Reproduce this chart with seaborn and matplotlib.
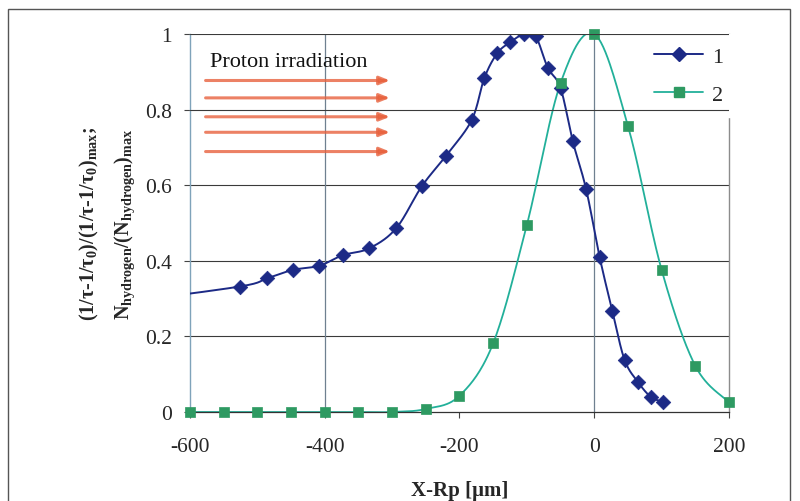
import numpy as np
import pandas as pd
import matplotlib
matplotlib.use("Agg")
import matplotlib.pyplot as plt
import seaborn as sns
from matplotlib.lines import Line2D
from matplotlib.patches import Rectangle

# ---------------- data ----------------
s1_x = [-700, -526, -485, -447, -408, -373, -334, -294, -256, -220, -182, -163, -144,
        -125, -104, -87, -69, -50, -32, -12, 8, 27, 45, 65, 84, 102]
s1_y = [0.29, 0.332, 0.354, 0.376, 0.387, 0.415, 0.433, 0.486, 0.597, 0.678, 0.772,
        0.884, 0.949, 0.978, 1.0, 0.994, 0.911, 0.857, 0.717, 0.589, 0.41, 0.266,
        0.138, 0.079, 0.040, 0.027]
s2_x = [-600, -550, -500, -450, -400, -350, -300, -250, -200, -150, -100, -50, 0,
        50, 100, 150, 200]
s2_y = [0, 0, 0, 0, 0, 0, 0, 0.008, 0.043, 0.182, 0.495, 0.87, 1.0, 0.757, 0.376,
        0.122, 0.026]
arrow_y = [0.877, 0.831, 0.781, 0.740, 0.689]
arrow_x = [-581, -299]
x_ticks = [-600, -400, -200, 0, 200]
y_ticks = [0, 0.2, 0.4, 0.6, 0.8, 1.0]
y_tick_labels = ["0", "0.2", "0.4", "0.6", "0.8", "1"]
series_names = ["1", "2"]

C1 = "#1c2a86"
C2_line = "#22b09a"
C2_mark = "#2e9a62"
ARROW = "#e8623e"


def smooth(xs, ys, n=30):
    """Catmull-Rom (Excel-like) smoothed curve through the given points."""
    P = np.column_stack([xs, ys]).astype(float)
    P = np.vstack([P[0], P, P[-1]])
    out = []
    t = np.linspace(0, 1, n, endpoint=False)
    for i in range(1, len(P) - 2):
        p0, p1, p2, p3 = P[i - 1], P[i], P[i + 1], P[i + 2]
        b1 = p1 + (p2 - p0) / 6
        b2 = p2 - (p3 - p1) / 6
        seg = ((1 - t) ** 3)[:, None] * p1 + (3 * (1 - t) ** 2 * t)[:, None] * b1 \
            + (3 * (1 - t) * t ** 2)[:, None] * b2 + (t ** 3)[:, None] * p2
        out.append(seg)
    out.append(P[-2][None, :])
    arr = np.vstack(out)
    return arr[:, 0], arr[:, 1]


sns.set_theme(style="white")
plt.rcParams["font.family"] = ["Liberation Serif", "DejaVu Serif"]
plt.rcParams["mathtext.fontset"] = "custom"
plt.rcParams["mathtext.rm"] = "Liberation Serif:bold"
plt.rcParams["mathtext.it"] = "Liberation Serif:bold"
plt.rcParams["mathtext.bf"] = "Liberation Serif:bold"

fig = plt.figure(figsize=(8, 5.02), dpi=100)
ax = fig.add_axes([190 / 800, 1 - 413 / 502, (729 - 190) / 800, (413 - 35) / 502])

# grid
for yv in y_ticks[1:]:
    ax.axhline(yv, color="#3a3a3a", lw=0.8, zorder=11 if yv >= 0.8 else 1)
for xv in [-400, 0]:
    ax.axvline(xv, color="#6f8090", lw=0.9, zorder=1)

sx1, sy1 = smooth(s1_x, s1_y)
sx2, sy2 = smooth(s2_x, s2_y)
sns.lineplot(x=sx1, y=sy1, ax=ax, color=C1, lw=1.4, sort=False, zorder=3)
sns.lineplot(x=sx2, y=sy2, ax=ax, color=C2_line, lw=1.3, sort=False, zorder=2)
sns.scatterplot(x=s1_x, y=s1_y, ax=ax, marker="D", s=55, color=C1, edgecolor=C1,
                linewidth=0.5, zorder=4, clip_on=True)
sns.scatterplot(x=s2_x, y=s2_y, ax=ax, marker="s", s=55, color=C2_mark, edgecolor=C2_mark,
                linewidth=0.5, zorder=4, clip_on=False)

# arrows
for ay in arrow_y:
    ax.annotate("", xy=(arrow_x[1], ay), xytext=(arrow_x[0], ay),
                arrowprops=dict(arrowstyle="-|>,head_length=0.5,head_width=0.2",
                                color=ARROW, lw=2.2, alpha=0.8), zorder=5)
ax.text(-571, 0.928, "Proton irradiation", fontsize=16, color="#111111",
        ha="left", va="center", zorder=5)

ax.set_xlim(-600, 200)
ax.set_ylim(0, 1)
ax.set_xticks(x_ticks)
ax.set_xticklabels([str(v) for v in x_ticks], fontsize=15.5)
ax.set_yticks(y_ticks)
ax.set_yticklabels(y_tick_labels, fontsize=15.5)
ax.tick_params(axis="both", direction="out", length=4, width=0.8, color="#444444",
               bottom=True, left=True, pad=9)
ax.tick_params(axis="x", pad=14)

ax.spines["top"].set_visible(False)
ax.spines["left"].set_color("#7fa3ba")
ax.spines["left"].set_linewidth(1.0)
ax.spines["bottom"].set_color("#333333")
ax.spines["bottom"].set_linewidth(0.9)
ax.spines["right"].set_color("#8c8c8c")
ax.spines["right"].set_linewidth(1.0)

ax.set_xlabel("X-Rp [μm]", fontsize=15, fontweight="bold", labelpad=17)
ylabel = ("(1/τ-1/τ$_0$)/(1/τ-1/τ$_0$)$_{max}$;\n"
          "N$_{hydrogen}$/(N$_{hydrogen}$)$_{max}$")
ax.set_ylabel(ylabel, fontsize=14.5, fontweight="bold", labelpad=6, linespacing=1.7)

handles = [
    Line2D([0], [0], color=C1, lw=1.4, marker="D", markersize=7.5, markerfacecolor=C1),
    Line2D([0], [0], color=C2_line, lw=1.3, marker="s", markersize=7,
           markerfacecolor=C2_mark, markeredgecolor=C2_mark),
]
leg = ax.legend(handles, series_names, loc="upper right", bbox_to_anchor=(1.012, 1.0),
                frameon=True, fontsize=16, handlelength=2.2, handletextpad=0.4,
                borderpad=0.55, labelspacing=0.8, borderaxespad=0.0, fancybox=False)
leg.get_frame().set_edgecolor("white")
leg.get_frame().set_facecolor("white")
leg.get_frame().set_alpha(1.0)
leg.set_zorder(10)

# outer frame
fig.add_artist(Rectangle((8 / 800, -0.02), (790 - 8) / 800, 1 - 10 / 502 + 0.02,
                         transform=fig.transFigure, fill=False, edgecolor="#555555",
                         lw=1.0))

fig.savefig("out.png", dpi=100)
